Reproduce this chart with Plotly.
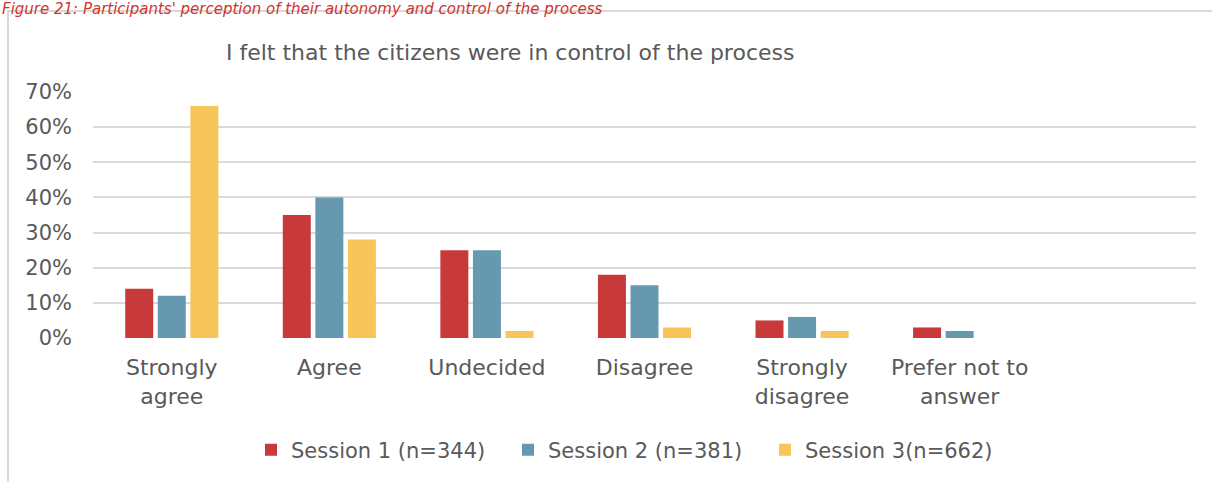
import plotly.graph_objects as go

categories = ["Strongly<br>agree", "Agree", "Undecided", "Disagree", "Strongly<br>disagree", "Prefer not to<br>answer"]
session1 = [0.14, 0.35, 0.25, 0.18, 0.05, 0.03]
session2 = [0.12, 0.40, 0.25, 0.15, 0.06, 0.02]
session3 = [0.66, 0.28, 0.02, 0.03, 0.02, 0.0]
series_names = ["Session 1 (n=344)", "Session 2 (n=381)", "Session 3(n=662)"]
colors = ["#C83A3A", "#6699B0", "#F7C55A"]
ytick_vals = [0, 0.1, 0.2, 0.3, 0.4, 0.5, 0.6, 0.7]
ytick_text = ["0%", "10%", "20%", "30%", "40%", "50%", "60%", "70%"]

W, H = 1212, 482
ml, mr, mt, mb = 93, 16, 92, 144
FONT = "DejaVu Sans, sans-serif"
GRAY = "#595959"

xs = list(range(len(categories)))
fig = go.Figure()
for name, vals, c in zip(series_names, [session1, session2, session3], colors):
    fig.add_trace(go.Bar(x=xs, y=vals, name=name, marker=dict(color=c, line=dict(width=0))))

plot_h = H - mt - mb
plot_w = W - ml - mr
def py(pix):
    return (H - mb - pix) / plot_h
def px(pix):
    return (pix - ml) / plot_w

fig.update_layout(
    width=W, height=H,
    margin=dict(l=ml, r=mr, t=mt, b=mb),
    paper_bgcolor="white", plot_bgcolor="white",
    barmode="group", bargap=0.38, bargroupgap=0.14,
    font=dict(family=FONT, color=GRAY, size=20),
    showlegend=True,
    legend=dict(orientation="h", x=px(251), xanchor="left", y=py(450), yanchor="middle",
                font=dict(size=21, color=GRAY), itemwidth=30, traceorder="normal",
                entrywidth=212, entrywidthmode="pixels"),
    xaxis=dict(range=[-0.5, 6.5], tickmode="array", tickvals=xs, ticktext=categories,
               showgrid=False, zeroline=False, showline=False, ticks="",
               ticklabelstandoff=14,
               tickfont=dict(size=22, color=GRAY), fixedrange=True),
    yaxis=dict(range=[0, 0.7], tickmode="array", tickvals=ytick_vals, ticktext=ytick_text,
               showgrid=True, gridcolor="#D9D9D9", gridwidth=2, zeroline=False, showline=False,
               ticks="", ticklabelstandoff=20, tickfont=dict(size=21, color=GRAY), fixedrange=True),
    shapes=[dict(type="rect", xref="paper", yref="paper",
                 x0=px(8), y0=py(520), x1=px(1260), y1=py(11),
                 line=dict(color="#D9D9D9", width=2), fillcolor="rgba(0,0,0,0)", layer="below")],
    annotations=[
        dict(text="I felt that the citizens were in control of the process", xref="paper", yref="paper",
             x=px(510), y=py(52), xanchor="center", yanchor="middle", showarrow=False,
             font=dict(size=22, color=GRAY, family=FONT)),
        dict(text="<i>Figure 21: Participants' perception of their autonomy and control of the process</i>",
             xref="paper", yref="paper", x=px(0), y=py(-2), xanchor="left", yanchor="top",
             showarrow=False, font=dict(size=15, color="#D0342C", family=FONT)),
    ],
)

fig.write_html("out.html", config={"displayModeBar": False},
               post_script="document.body.style.margin='0';document.body.style.padding='0';")
